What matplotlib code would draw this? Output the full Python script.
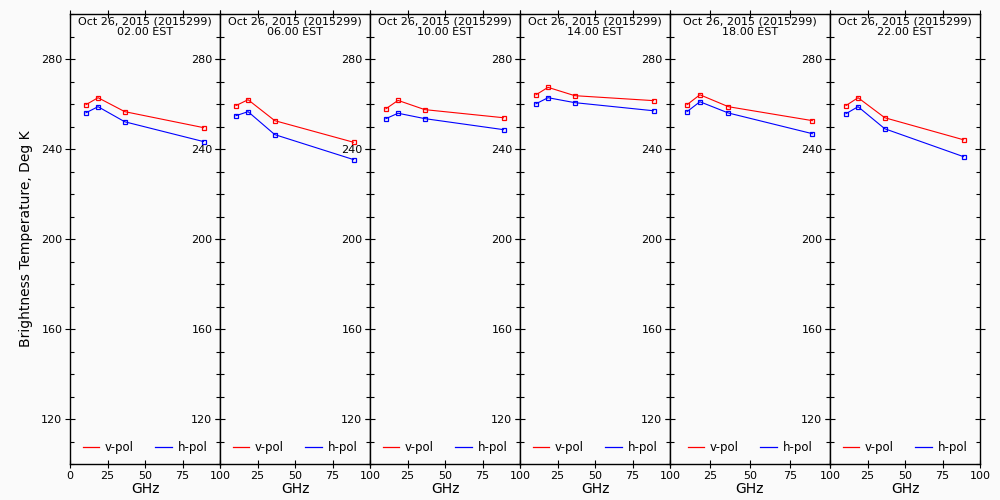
import numpy as np
import matplotlib
matplotlib.use('Agg')
import matplotlib.pyplot as plt
from matplotlib.lines import Line2D
from matplotlib.ticker import MultipleLocator

# channel frequencies, GHz
freqs = [10.65, 18.7, 36.5, 89.0]

date_label = "Oct 26, 2015 (2015299)"
hours = ["02.00 EST", "06.00 EST", "10.00 EST", "14.00 EST", "18.00 EST", "22.00 EST"]

# brightness temperatures
vpol = [
    [259.7, 262.8, 256.6, 249.5],
    [259.3, 261.9, 252.6, 243.0],
    [257.9, 261.6, 257.5, 253.9],
    [264.1, 267.4, 263.7, 261.5],
    [259.7, 264.1, 258.8, 252.6],
    [259.3, 262.8, 253.9, 244.1],
]
hpol = [
    [256.1, 258.8, 252.1, 243.3],
    [254.8, 256.6, 246.4, 235.3],
    [253.5, 255.9, 253.5, 248.6],
    [260.1, 262.8, 260.6, 257.0],
    [256.6, 261.0, 256.0, 246.8],
    [255.7, 258.8, 249.0, 236.6],
]

# panel edges in pixels (left, right)
edges = [(70, 220), (220, 370), (370, 520), (520, 670), (670, 830), (830, 980)]

bg = '#fafafa'
fig = plt.figure(figsize=(10, 5), dpi=100, facecolor=bg)

for i, (x0, x1) in enumerate(edges):
    ax = fig.add_axes([x0 / 1000, 36 / 500, (x1 - x0) / 1000, 450 / 500])
    ax.set_facecolor(bg)
    ax.plot(freqs, vpol[i], color='red', lw=0.8, marker='s', ms=3.5,
            mfc='none', mec='red', mew=0.9)
    ax.plot(freqs, hpol[i], color='blue', lw=0.8, marker='s', ms=3.5,
            mfc='none', mec='blue', mew=0.9)
    ax.set_xlim(0, 100)
    ax.set_ylim(100, 300)

    ax.set_xticks([0, 25, 50, 75, 100])
    if i == 0:
        ax.set_xticklabels(['0', '25', '50', '75', '100'])
    else:
        ax.set_xticklabels(['', '25', '50', '75', '100'])
    ax.set_yticks([120, 160, 200, 240, 280])
    ax.yaxis.set_minor_locator(MultipleLocator(10))
    ax.tick_params(axis='x', which='major', direction='inout', length=6,
                   top=True, labelsize=8, pad=2, width=0.8)
    ax.tick_params(axis='y', which='major', direction='inout', length=7,
                   right=True, labelsize=8, pad=2, width=0.8)
    ax.tick_params(axis='y', which='minor', direction='in', length=3,
                   right=True, width=0.8)
    for s in ax.spines.values():
        s.set_linewidth(1.0)

    ax.set_xlabel('GHz', fontsize=10, labelpad=1)
    ax.text(0.5, 0.995, date_label + "\n" + hours[i], transform=ax.transAxes,
            ha='center', va='top', fontsize=8, linespacing=1.05)

    handles = [Line2D([], [], color='red', lw=0.9),
               Line2D([], [], color='blue', lw=0.9)]
    ax.legend(handles, ['v-pol', 'h-pol'], loc='lower center', ncol=2,
              frameon=False, fontsize=8.5, handlelength=1.4,
              handletextpad=0.5, columnspacing=1.8,
              bbox_to_anchor=(0.5, -0.002))

    if i == 0:
        ax.set_ylabel('Brightness Temperature, Deg K', fontsize=10, labelpad=6)

fig.savefig('out.png', dpi=100, facecolor=bg)
